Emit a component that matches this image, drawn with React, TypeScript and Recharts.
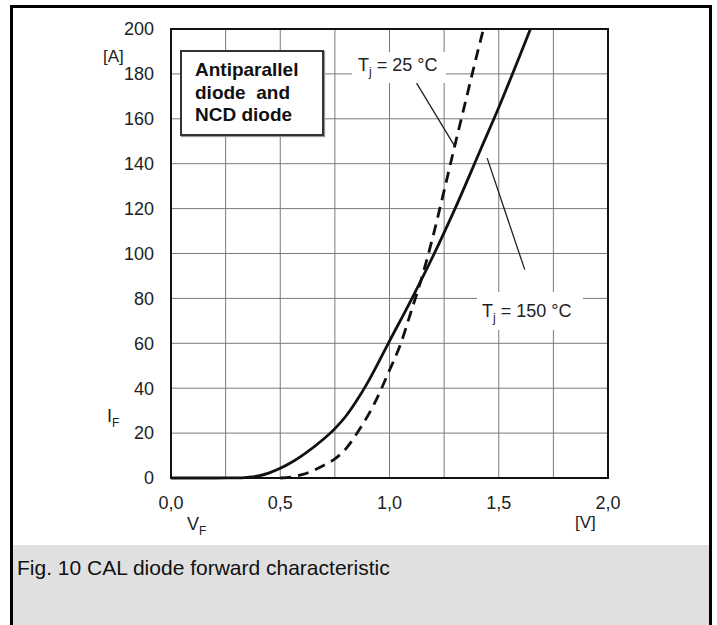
import React from "react";
import {
  LineChart,
  Line,
  XAxis,
  YAxis,
  CartesianGrid,
  ReferenceArea,
  ReferenceLine,
} from "recharts";

// forward voltage [V] / current [A], Tj = 150 °C (solid)
const vHot = [0, 0.2, 0.3, 0.35, 0.4, 0.45, 0.5, 0.55, 0.6, 0.7, 0.75, 0.8, 0.85, 0.9, 1.0, 1.1, 1.2, 1.3, 1.42, 1.5, 1.6, 1.645];
const iHot = [0, 0, 0.05, 0.3, 0.9, 2.3, 4.3, 6.9, 10, 17.5, 22, 27.5, 34.5, 42.5, 61, 79.5, 99, 120, 147, 165, 189, 200];

// Tj = 25 °C (dashed)
const vCold = [0.5, 0.55, 0.6, 0.65, 0.7, 0.75, 0.8, 0.865, 0.925, 1.0, 1.05, 1.1, 1.15, 1.2, 1.25, 1.3, 1.35, 1.4, 1.43];
const iCold = [0, 0.4, 1.5, 3.3, 5.7, 8.5, 13, 22, 32, 48, 59.5, 74.5, 90, 108, 128, 148.5, 168.5, 188.5, 200];

const xTicks = [0, 0.5, 1, 1.5, 2];
const yTicks = [0, 20, 40, 60, 80, 100, 120, 140, 160, 180, 200];
const xGrid = [0, 0.25, 0.5, 0.75, 1, 1.25, 1.5, 1.75, 2];
const yGrid = [0, 10, 20, 30, 40, 50, 60, 70, 80, 90, 100, 110, 120, 130, 140, 150, 160, 170, 180, 190, 200];

const hotData = vHot.map((v, i) => ({ v, i: iHot[i] }));
const coldData = vCold.map((v, i) => ({ v, i: iCold[i] }));

const FONT = "'Liberation Sans', Arial, sans-serif";
const tickStyle = { fontSize: 18, fill: "#222", fontFamily: FONT };

const Sub = ({ children }: { children: React.ReactNode }) => (
  <span style={{ fontSize: 12, position: "relative", top: 5 }}>{children}</span>
);

const abs = (left: number, top: number, extra: React.CSSProperties = {}): React.CSSProperties => ({
  position: "absolute",
  left,
  top,
  fontFamily: FONT,
  color: "#222",
  whiteSpace: "nowrap",
  ...extra,
});

export default function App() {
  return (
    <div
      style={{
        position: "absolute",
        left: 0,
        top: 0,
        width: 717,
        height: 625,
        overflow: "hidden",
        background: "#fff",
      }}
    >
      <LineChart
        width={717}
        height={625}
        margin={{ top: 29, right: 109, bottom: 0, left: 0 }}
        style={{ position: "absolute", left: 0, top: 0 }}
      >
        <CartesianGrid
          stroke="#7a7a7a"
          strokeWidth={1}
          horizontalValues={yGrid}
          verticalValues={xGrid}
        />
        <XAxis
          type="number"
          dataKey="v"
          domain={[0, 2]}
          ticks={xTicks}
          tickFormatter={(v: number) => v.toFixed(1).replace(".", ",")}
          tickLine={false}
          tickSize={0}
          tickMargin={18}
          axisLine={false}
          height={147}
          tick={tickStyle}
          allowDuplicatedCategory={false}
        />
        <YAxis
          type="number"
          dataKey="i"
          domain={[0, 200]}
          ticks={yTicks}
          tickLine={false}
          tickSize={0}
          tickMargin={17}
          axisLine={false}
          width={171}
          tick={tickStyle}
        />
        <ReferenceArea
          x1={0}
          x2={2}
          y1={0}
          y2={200}
          fill="none"
          stroke="#111"
          strokeWidth={2}
          fillOpacity={0}
        />
        <ReferenceLine
          segment={[
            { x: 1.124, y: 175.9 },
            { x: 1.299, y: 147.7 },
          ]}
          stroke="#222"
          strokeWidth={1.3}
        />
        <ReferenceLine
          segment={[
            { x: 1.447, y: 142.5 },
            { x: 1.619, y: 92.8 },
          ]}
          stroke="#222"
          strokeWidth={1.3}
        />
        <Line
          data={coldData}
          dataKey="i"
          type="monotone"
          stroke="#111"
          strokeWidth={2.8}
          strokeDasharray="11 7"
          dot={false}
          isAnimationActive={false}
        />
        <Line
          data={hotData}
          dataKey="i"
          type="monotone"
          stroke="#111"
          strokeWidth={2.8}
          dot={false}
          isAnimationActive={false}
        />
      </LineChart>

      {/* outer frame */}
      <div
        style={{
          position: "absolute",
          left: 10,
          top: 5,
          width: 696,
          height: 700,
          borderLeft: "3px solid #000",
          borderRight: "3px solid #000",
          borderTop: "3px solid #000",
        }}
      />
      {/* caption band */}
      <div
        style={{
          position: "absolute",
          left: 13,
          top: 545,
          width: 696,
          height: 80,
          background: "#e0e0e0",
        }}
      />
      <div style={abs(17, 555, { fontSize: 21, color: "#111", lineHeight: "26px" })}>
        Fig. 10 CAL diode forward characteristic
      </div>

      {/* axis captions */}
      <div style={abs(103, 46, { fontSize: 17, lineHeight: "22px" })}>[A]</div>
      <div style={abs(107, 404, { fontSize: 18, lineHeight: "24px" })}>
        I<Sub>F</Sub>
      </div>
      <div style={abs(187, 512, { fontSize: 18, lineHeight: "24px" })}>
        V<Sub>F</Sub>
      </div>
      <div style={abs(575, 511, { fontSize: 17, lineHeight: "24px" })}>[V]</div>

      {/* legend box */}
      <div
        style={abs(180, 50, {
          width: 140,
          height: 82,
          border: "2px solid #333",
          background: "#fff",
          boxShadow: "1px 1px 1px #999",
        })}
      />
      <div
        style={abs(195, 59, {
          fontSize: 19,
          fontWeight: "bold",
          lineHeight: "22.7px",
          color: "#111",
          whiteSpace: "pre",
        })}
      >
        {"Antiparallel\ndiode  and\nNCD diode"}
      </div>

      {/* curve labels */}
      <div
        style={abs(352, 52, {
          width: 94,
          height: 31,
          background: "#fff",
          fontSize: 18,
          lineHeight: "26px",
          paddingLeft: 6,
          boxSizing: "border-box",
        })}
      >
        T<Sub>j</Sub> = 25 °C
      </div>
      <div
        style={abs(477, 292, {
          width: 106,
          height: 38,
          background: "#fff",
          fontSize: 18,
          lineHeight: "38px",
          paddingLeft: 5,
          boxSizing: "border-box",
        })}
      >
        T<Sub>j</Sub> = 150 °C
      </div>
    </div>
  );
}
